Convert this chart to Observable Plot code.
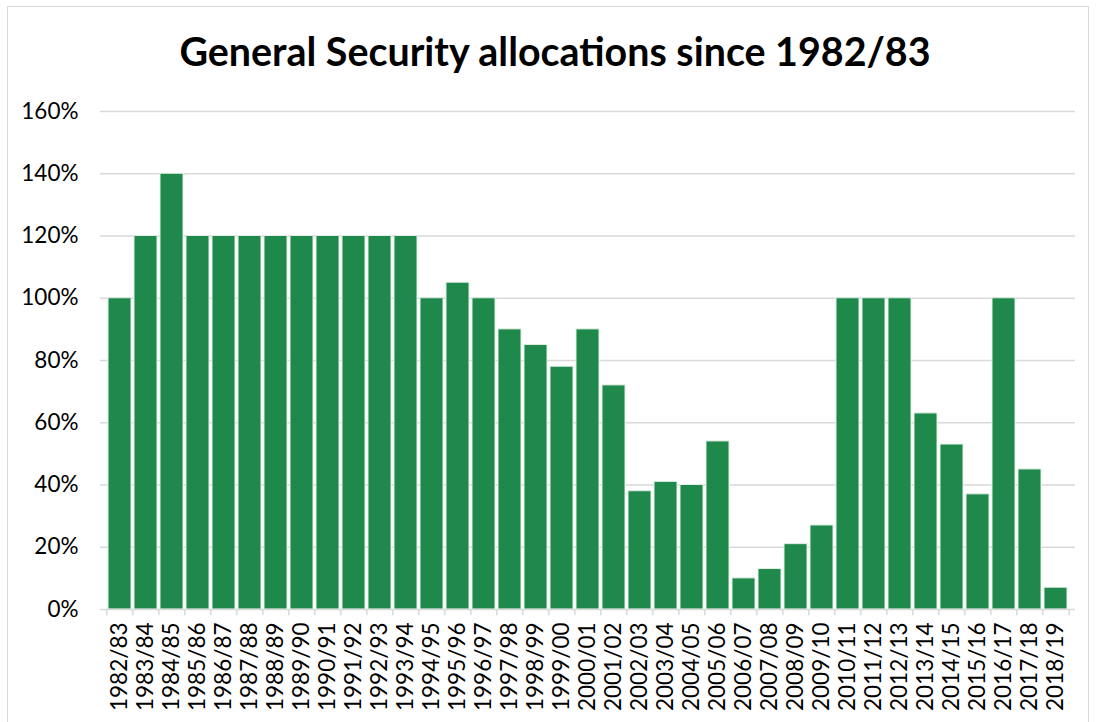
<!DOCTYPE html>
<html>
<head>
<meta charset="utf-8">
<script src="https://cdn.jsdelivr.net/npm/d3@7"></script>
<script src="https://cdn.jsdelivr.net/npm/@observablehq/plot@0.6"></script>
<style>
  html, body { margin: 0; padding: 0; background: #fff; }
  #frame { position: absolute; left: 7px; top: 6px; width: 1082px; height: 720px; border: 1px solid #d9d9d9; box-sizing: border-box; z-index: 2; pointer-events: none; background: transparent; }
  #wrap { position: absolute; left: 0; top: 0; width: 1096px; height: 722px; z-index: 1; }
  h1 { margin: 0; height: 95px; box-sizing: border-box; padding-top: 29px; text-align: center; font-family: Lato, sans-serif; font-weight: 700; font-size: 39.4px; line-height: 44px; color: #000; padding-left: 14px; }
</style>
</head>
<body>
<div id="wrap">
  <h1>General Security allocations since 1982/83</h1>
  <div id="chart"></div>
</div>
<div id="frame"></div>
<script>
const years = ["1982/83","1983/84","1984/85","1985/86","1986/87","1987/88","1988/89","1989/90","1990/91","1991/92","1992/93","1993/94","1994/95","1995/96","1996/97","1997/98","1998/99","1999/00","2000/01","2001/02","2002/03","2003/04","2004/05","2005/06","2006/07","2007/08","2008/09","2009/10","2010/11","2011/12","2012/13","2013/14","2014/15","2015/16","2016/17","2017/18","2018/19"];
const allocations = [100,120,140,120,120,120,120,120,120,120,120,120,100,105,100,90,85,78,90,72,38,41,40,54,10,13,21,27,100,100,100,63,53,37,100,45,7];
const yTicks = [0,20,40,60,80,100,120,140,160];

const data = years.map((y, i) => ({year: y, value: allocations[i]}));
const W = 1096, ML = 100, MR = 21;
const step = (W - ML - MR) / years.length;
const lastYear = [years[years.length - 1]];
const FS = 22.5;

const chart = Plot.plot({
  width: W,
  height: 627,
  marginLeft: ML,
  marginRight: MR,
  marginTop: 16,
  marginBottom: 113,
  style: {fontFamily: "Lato, sans-serif", fontSize: FS + "px", color: "#000", background: "#fff"},
  x: {domain: years, paddingInner: 0.13, paddingOuter: 0.065, label: null},
  y: {domain: [0, 160], ticks: yTicks, label: null},
  marks: [
    Plot.gridY(yTicks.filter(t => t > 0), {stroke: "#d9d9d9", strokeOpacity: 1, strokeWidth: 1.5}),
    Plot.axisY({ticks: yTicks, tickSize: 0, tickPadding: 22, tickFormat: d => d + "%", label: null, fontSize: FS}),
    Plot.barY(data, {x: "year", y: "value", fill: "#1f884b", stroke: "#e3efe6", strokeWidth: 1}),
    Plot.ruleY([0], {stroke: "#d9d9d9", strokeWidth: 1.5}),
    Plot.ruleX(years, {x: d => d, dx: -step / 2, y1: 0, y2: -2, stroke: "#d9d9d9", strokeWidth: 1.5}),
    Plot.ruleX(lastYear, {x: d => d, dx: step / 2, y1: 0, y2: -2, stroke: "#d9d9d9", strokeWidth: 1.5}),
    Plot.axisX({tickSize: 0, tickPadding: 13, tickRotate: -90, label: null, fontSize: FS})
  ]
});
document.getElementById("chart").appendChild(chart);
</script>
</body>
</html>
